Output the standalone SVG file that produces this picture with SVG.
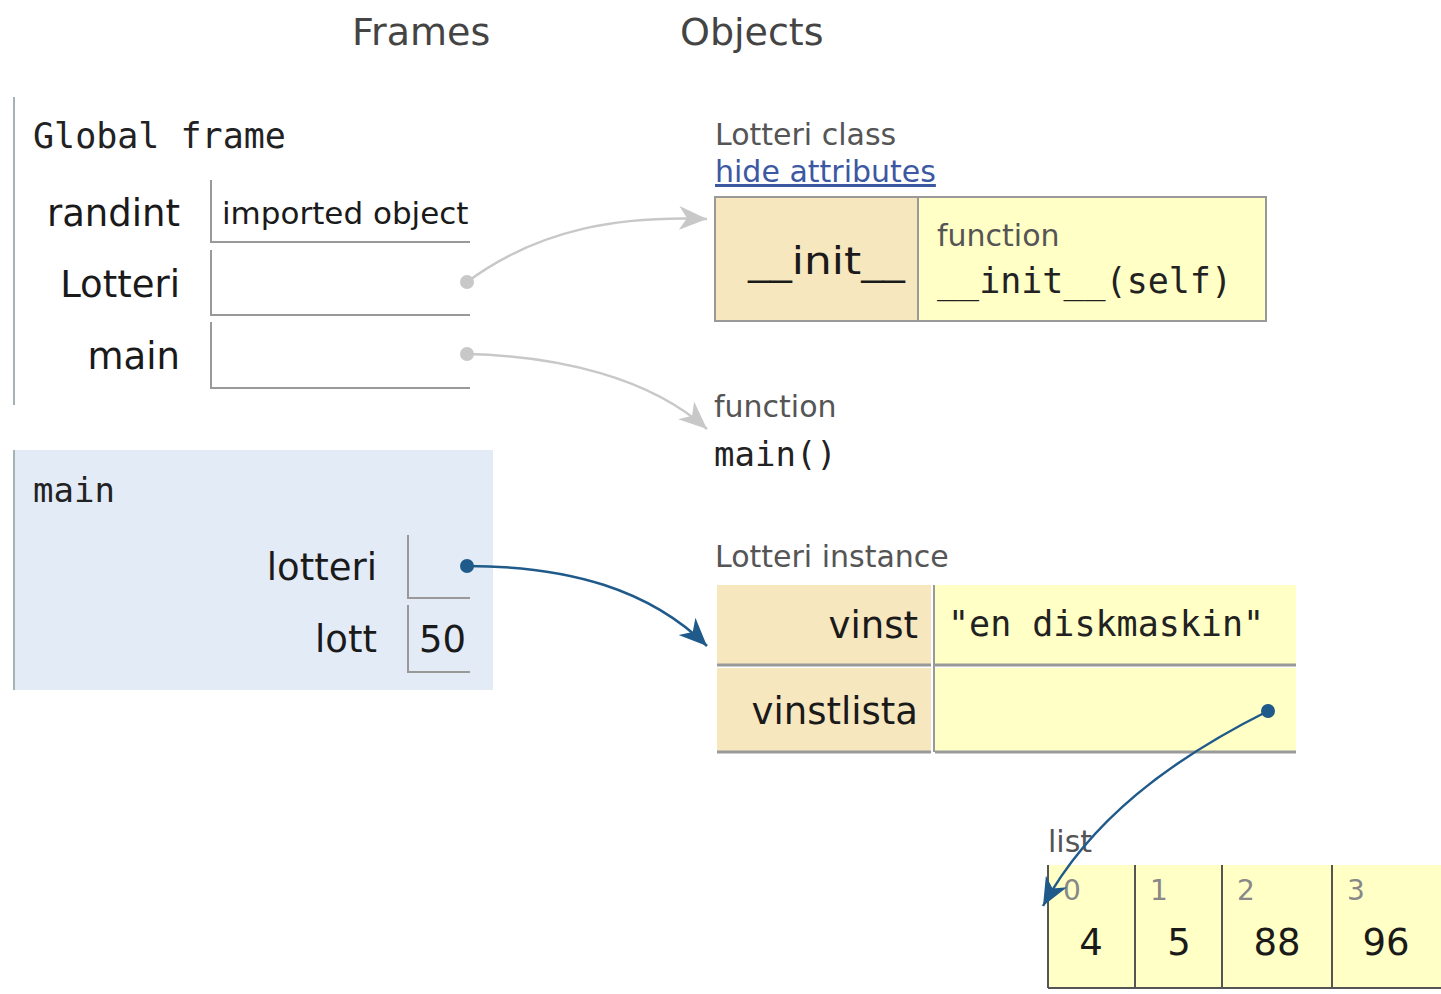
<svg xmlns="http://www.w3.org/2000/svg" width="1441" height="994" viewBox="0 0 1441 994">
<defs>
<style>
.hdr{font-family:"DejaVu Sans",Verdana,sans-serif;font-size:38px;fill:#444}
.mono{font-family:"DejaVu Sans Mono","Liberation Mono",monospace;fill:#222}
.lbl{font-family:"DejaVu Sans",Verdana,sans-serif;font-size:37px;fill:#1a1a1a}
.small{font-family:"DejaVu Sans",Verdana,sans-serif;font-size:30px;fill:#555}
.idx{font-family:"DejaVu Sans",Verdana,sans-serif;font-size:28px;fill:#888}
.box{fill:none;stroke:#999;stroke-width:2}
.key{fill:#f7e7bf}
.val{fill:#ffffc6}
.cg{fill:none;stroke:#c8c8c8;stroke-width:2.5}
.cb{fill:none;stroke:#1f5a8a;stroke-width:2.5}
</style>
<marker id="ag" markerUnits="userSpaceOnUse" markerWidth="30" markerHeight="26" refX="28" refY="13" orient="auto">
<path d="M0,1 L28,13 L0,25 L8,13 z" fill="#c8c8c8"/>
</marker>
<marker id="ab" markerUnits="userSpaceOnUse" markerWidth="30" markerHeight="26" refX="28" refY="13" orient="auto">
<path d="M0,1 L28,13 L0,25 L8,13 z" fill="#1f5a8a"/>
</marker>
</defs>
<rect width="1441" height="994" fill="#fff"/>

<g id="headers">
<text class="hdr" x="352" y="45">Frames</text>
<text class="hdr" x="680" y="45">Objects</text>
</g>

<g id="global-frame">
<line x1="14" y1="97" x2="14" y2="405" stroke="#a6b3b6" stroke-width="2"/>
<text class="mono" x="33" y="148" font-size="35">Global frame</text>
<text class="lbl" x="180" y="226" text-anchor="end">randint</text>
<path class="box" d="M211,180 V242 H470"/>
<text x="222" y="224" font-family="DejaVu Sans,Verdana,sans-serif" font-size="31" fill="#1a1a1a">imported object</text>
<text class="lbl" x="180" y="297" text-anchor="end">Lotteri</text>
<path class="box" d="M211,250 V315 H470"/>
<text class="lbl" x="180" y="369" text-anchor="end">main</text>
<path class="box" d="M211,322 V388 H470"/>
</g>

<g id="main-frame">
<rect x="13" y="450" width="480" height="240" fill="#e2ebf6"/>
<line x1="14" y1="450" x2="14" y2="690" stroke="#a6b3b6" stroke-width="2"/>
<text class="mono" x="33" y="502" font-size="34">main</text>
<text class="lbl" x="377" y="580" text-anchor="end">lotteri</text>
<path class="box" d="M408,535 V598 H470"/>
<text class="lbl" x="377" y="652" text-anchor="end">lott</text>
<path class="box" d="M408,605 V672 H470"/>
<text class="lbl" x="419" y="652" font-size="36">50</text>
</g>

<g id="lotteri-class">
<text class="small" x="715" y="145">Lotteri class</text>
<text class="small" x="715" y="182" style="fill:#3d58a2" text-decoration="underline">hide attributes</text>
<rect class="key" x="715" y="197" width="203" height="124"/>
<rect class="val" x="918" y="197" width="348" height="124"/>
<rect x="715" y="197" width="551" height="124" fill="none" stroke="#999" stroke-width="2"/>
<line x1="918" y1="197" x2="918" y2="321" stroke="#999" stroke-width="2"/>
<text class="lbl" x="748" y="274" font-size="38" textLength="157" lengthAdjust="spacingAndGlyphs">__init__</text>
<text class="small" x="937" y="246">function</text>
<text class="mono" x="937" y="293" font-size="35">__init__(self)</text>
</g>

<g id="main-function">
<text class="small" x="714" y="417">function</text>
<text class="mono" x="714" y="466" font-size="34">main()</text>
</g>

<g id="lotteri-instance">
<text class="small" x="715" y="567">Lotteri instance</text>
<rect class="key" x="717" y="585" width="214" height="80"/>
<rect class="val" x="935" y="585" width="361" height="80"/>
<rect class="key" x="717" y="668" width="214" height="84"/>
<rect class="val" x="935" y="668" width="361" height="84"/>
<line x1="934" y1="585" x2="934" y2="752" stroke="#999" stroke-width="2"/>
<line x1="717" y1="665" x2="931" y2="665" stroke="#999" stroke-width="3"/>
<line x1="935" y1="665" x2="1296" y2="665" stroke="#999" stroke-width="3"/>
<line x1="717" y1="752" x2="931" y2="752" stroke="#999" stroke-width="3"/>
<line x1="935" y1="752" x2="1296" y2="752" stroke="#999" stroke-width="3"/>
<text class="lbl" x="918" y="638" text-anchor="end">vinst</text>
<text class="mono" x="948" y="636" font-size="35">"en diskmaskin"</text>
<text class="lbl" x="918" y="724" text-anchor="end">vinstlista</text>
</g>

<g id="list">
<text class="small" x="1048" y="852">list</text>
<rect class="val" x="1048" y="865" width="393" height="123"/>
<g stroke="#555" stroke-width="2">
<line x1="1048" y1="865" x2="1048" y2="988"/>
<line x1="1135" y1="865" x2="1135" y2="988"/>
<line x1="1222" y1="865" x2="1222" y2="988"/>
<line x1="1332" y1="865" x2="1332" y2="988"/>
<line x1="1048" y1="988" x2="1441" y2="988"/>
</g>
<text class="idx" x="1063" y="900">0</text>
<text class="idx" x="1150" y="900">1</text>
<text class="idx" x="1237" y="900">2</text>
<text class="idx" x="1347" y="900">3</text>
<text class="lbl" x="1091" y="955" text-anchor="middle" font-size="36">4</text>
<text class="lbl" x="1179" y="955" text-anchor="middle" font-size="36">5</text>
<text class="lbl" x="1277" y="955" text-anchor="middle" font-size="36">88</text>
<text class="lbl" x="1386" y="955" text-anchor="middle" font-size="36">96</text>
</g>

<g id="connectors">
<path class="cg" d="M467,282 C540,228 620,216 707,219" marker-end="url(#ag)"/>
<circle cx="467" cy="282" r="7" fill="#c8c8c8"/>
<path class="cg" d="M467,354 C560,356 650,378 707,429" marker-end="url(#ag)"/>
<circle cx="467" cy="354" r="7" fill="#c8c8c8"/>
<path class="cb" d="M467,566 C570,566 650,590 707,646" marker-end="url(#ab)"/>
<circle cx="467" cy="566" r="7" fill="#1f5a8a"/>
<path class="cb" d="M1268,711 C1170,760 1090,820 1043,906" marker-end="url(#ab)"/>
<circle cx="1268" cy="711" r="7" fill="#1f5a8a"/>
</g>
</svg>
